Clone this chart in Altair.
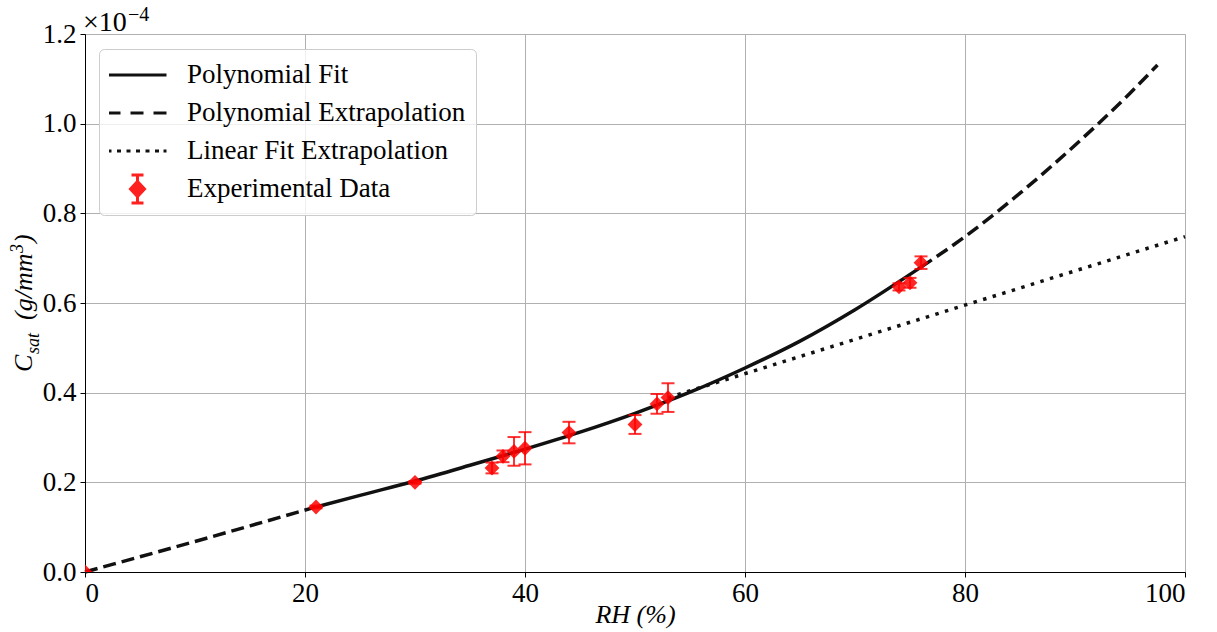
import altair as alt
import pandas as pd

# ---------------- data (C_sat in units of 1e-4 g/mm^3) ----------------
exp_rh = [0, 21, 30, 37, 38, 39, 40, 44, 50, 52, 53, 74, 75, 76]
exp_c = [0.0, 0.145, 0.200, 0.232, 0.258, 0.269, 0.276, 0.311, 0.329, 0.375, 0.389, 0.636, 0.645, 0.690]
exp_err = [0.0, 0.003, 0.003, 0.012, 0.013, 0.032, 0.036, 0.024, 0.021, 0.022, 0.032, 0.008, 0.011, 0.014]

fit_rh = [21, 25, 30, 35, 40, 45, 50, 55, 60, 65, 70, 76]
fit_c = [0.145, 0.171, 0.203, 0.238, 0.274, 0.312, 0.354, 0.401, 0.455, 0.515, 0.585, 0.680]

ext_low_rh = [0, 5, 10, 15, 21]
ext_low_c = [0.0, 0.034, 0.068, 0.103, 0.145]
ext_high_rh = [76, 80, 85, 90, 95, 97.5]
ext_high_c = [0.680, 0.748, 0.845, 0.952, 1.068, 1.131]

lin_rh = [53, 100]
lin_c = [0.389, 0.748]

x_ticks = [0, 20, 40, 60, 80, 100]
y_ticks = [0.0, 0.2, 0.4, 0.6, 0.8, 1.0, 1.2]

series_names = ["Polynomial Fit", "Polynomial Extrapolation",
                "Linear Fit Extrapolation", "Experimental Data"]

FONT = "Liberation Serif"
LINE = "#111111"
RED = "#ff0000"

# ---------------- frames ----------------
fit_df = pd.DataFrame({"rh": fit_rh, "c": fit_c})
ext_df = pd.concat([
    pd.DataFrame({"rh": ext_low_rh, "c": ext_low_c, "seg": "low"}),
    pd.DataFrame({"rh": ext_high_rh, "c": ext_high_c, "seg": "high"}),
])
lin_df = pd.DataFrame({"rh": lin_rh, "c": lin_c})
exp_df = pd.DataFrame({"rh": exp_rh, "c": exp_c, "err": exp_err})
exp_df["lo"] = exp_df["c"] - exp_df["err"]
exp_df["hi"] = exp_df["c"] + exp_df["err"]

xscale = alt.Scale(domain=[0, 100], nice=False, zero=False)
yscale = alt.Scale(domain=[0, 1.2], nice=False)

xaxis = alt.Axis(values=x_ticks, format="d", title="RH (%)", titleFont=FONT,
                 titleFontSize=26, titleFontStyle="italic", titleFontWeight="normal",
                 titleColor="black", titlePadding=-5,
                 labelFont=FONT, labelFontSize=27, labelColor="black", labelPadding=3,
                 tickColor="black", tickSize=5, domainColor="black",
                 grid=True, gridColor="#b0b0b0", gridWidth=1)
yaxis = alt.Axis(values=y_ticks, format=".1f", title=None,
                 labelFont=FONT, labelFontSize=27, labelColor="black", labelPadding=4,
                 tickColor="black", tickSize=5, domainColor="black",
                 grid=True, gridColor="#b0b0b0", gridWidth=1)

X = alt.X("rh:Q", scale=xscale, axis=xaxis)
Y = alt.Y("c:Q", scale=yscale, axis=yaxis)

fit_line = alt.Chart(fit_df).mark_line(color=LINE, strokeWidth=3.5,
                                       interpolate="monotone").encode(x=X, y=Y)
ext_line = alt.Chart(ext_df).mark_line(color=LINE, strokeWidth=3.5, strokeDash=[13, 6],
                                       interpolate="monotone").encode(
    x="rh:Q", y="c:Q", detail="seg:N")
lin_line = alt.Chart(lin_df).mark_line(color=LINE, strokeWidth=3.5,
                                       strokeDash=[3.5, 6.5]).encode(x="rh:Q", y="c:Q")

err_rule = alt.Chart(exp_df).mark_rule(color=RED, strokeWidth=2, opacity=0.8, clip=True).encode(
    x="rh:Q", y="lo:Q", y2="hi:Q")
err_lo = alt.Chart(exp_df).mark_tick(color=RED, orient="horizontal", size=13, thickness=2,
                                     opacity=0.8, clip=True).encode(x="rh:Q", y="lo:Q")
err_hi = alt.Chart(exp_df).mark_tick(color=RED, orient="horizontal", size=13, thickness=2,
                                     opacity=0.8, clip=True).encode(x="rh:Q", y="hi:Q")
pts = alt.Chart(exp_df).mark_point(shape="diamond", filled=True, color=RED, size=220,
                                   opacity=0.85, clip=True).encode(x="rh:Q", y="c:Q")

# ---------------- legend (custom symbols) ----------------
paths = [
    "M-1.5,0H4.4",
    "M-1.5,0H-0.2M0.8,0H2.1M3.1,0H4.4",
    "M-1.5,0H-1.1M-0.55,0H-0.15M0.4,0H0.8M1.35,0H1.75M2.3,0H2.7M3.25,0H3.65M4.1,0H4.4",
    "M0.8,0L1.5,-0.75L2.2,0L1.5,0.75ZM1.5,-1.4V1.4M0.9,-1.4H2.1M0.9,1.4H2.1",
]
legend_def = alt.Legend(title=None, orient="none", legendX=14, legendY=15,
                        labelFont=FONT, labelFontSize=27, labelColor="black",
                        labelLimit=0,
                        symbolSize=400, symbolStrokeWidth=3, labelOffset=51,
                        clipHeight=32, rowPadding=6,
                        padding=10,
                        fillColor="rgba(255,255,255,0.8)", strokeColor="#cccccc",
                        cornerRadius=5)
leg_df = pd.DataFrame({"series": series_names, "rh": [0] * 4, "c": [0] * 4})
legend_layer = alt.Chart(leg_df).transform_filter("false").mark_point(
    filled=True, opacity=1).encode(
    x="rh:Q", y="c:Q",
    shape=alt.Shape("series:N", scale=alt.Scale(domain=series_names, range=paths),
                    legend=legend_def),
    fill=alt.Fill("series:N", scale=alt.Scale(domain=series_names,
                                              range=[LINE, LINE, LINE, "#ff2020"]),
                  legend=legend_def),
    stroke=alt.Stroke("series:N", scale=alt.Scale(domain=series_names,
                                                  range=[LINE, LINE, LINE, "#ff2020"]),
                      legend=legend_def),
)

# ---------------- annotation texts ----------------
one = pd.DataFrame({"k": [0]})


def txt(s, x, y, size=26, style="normal", angle=0):
    return alt.Chart(one).mark_text(text=s, font=FONT, fontSize=size, fontStyle=style,
                                    align="left", baseline="alphabetic", angle=angle,
                                    color="black").encode(x=alt.value(x), y=alt.value(y))


offset_txt = txt("×10", -2, -3, size=28) + txt("−4", 43, -13, size=20)
ytitle = (txt("C", -53, 338, size=26, style="italic", angle=270)
          + txt("sat", -46, 320, size=18, style="italic", angle=270)
          + txt("(g/mm", -53, 286, size=26, style="italic", angle=270)
          + txt("3", -62, 219, size=18, style="italic", angle=270)
          + txt(")", -53, 209, size=26, style="italic", angle=270))

chart = alt.layer(
    fit_line, ext_line, lin_line, err_rule, err_lo, err_hi, pts, legend_layer,
    offset_txt, ytitle
).properties(
    width=1100, height=538,
    padding={"left": 85, "top": 34, "right": 32, "bottom": 60},
    autosize=alt.AutoSizeParams(type="none"),
).configure_view(
    stroke="black", strokeWidth=1
).configure(background="white")

chart.save("out.html", embed_options={"renderer": "svg", "actions": False})
